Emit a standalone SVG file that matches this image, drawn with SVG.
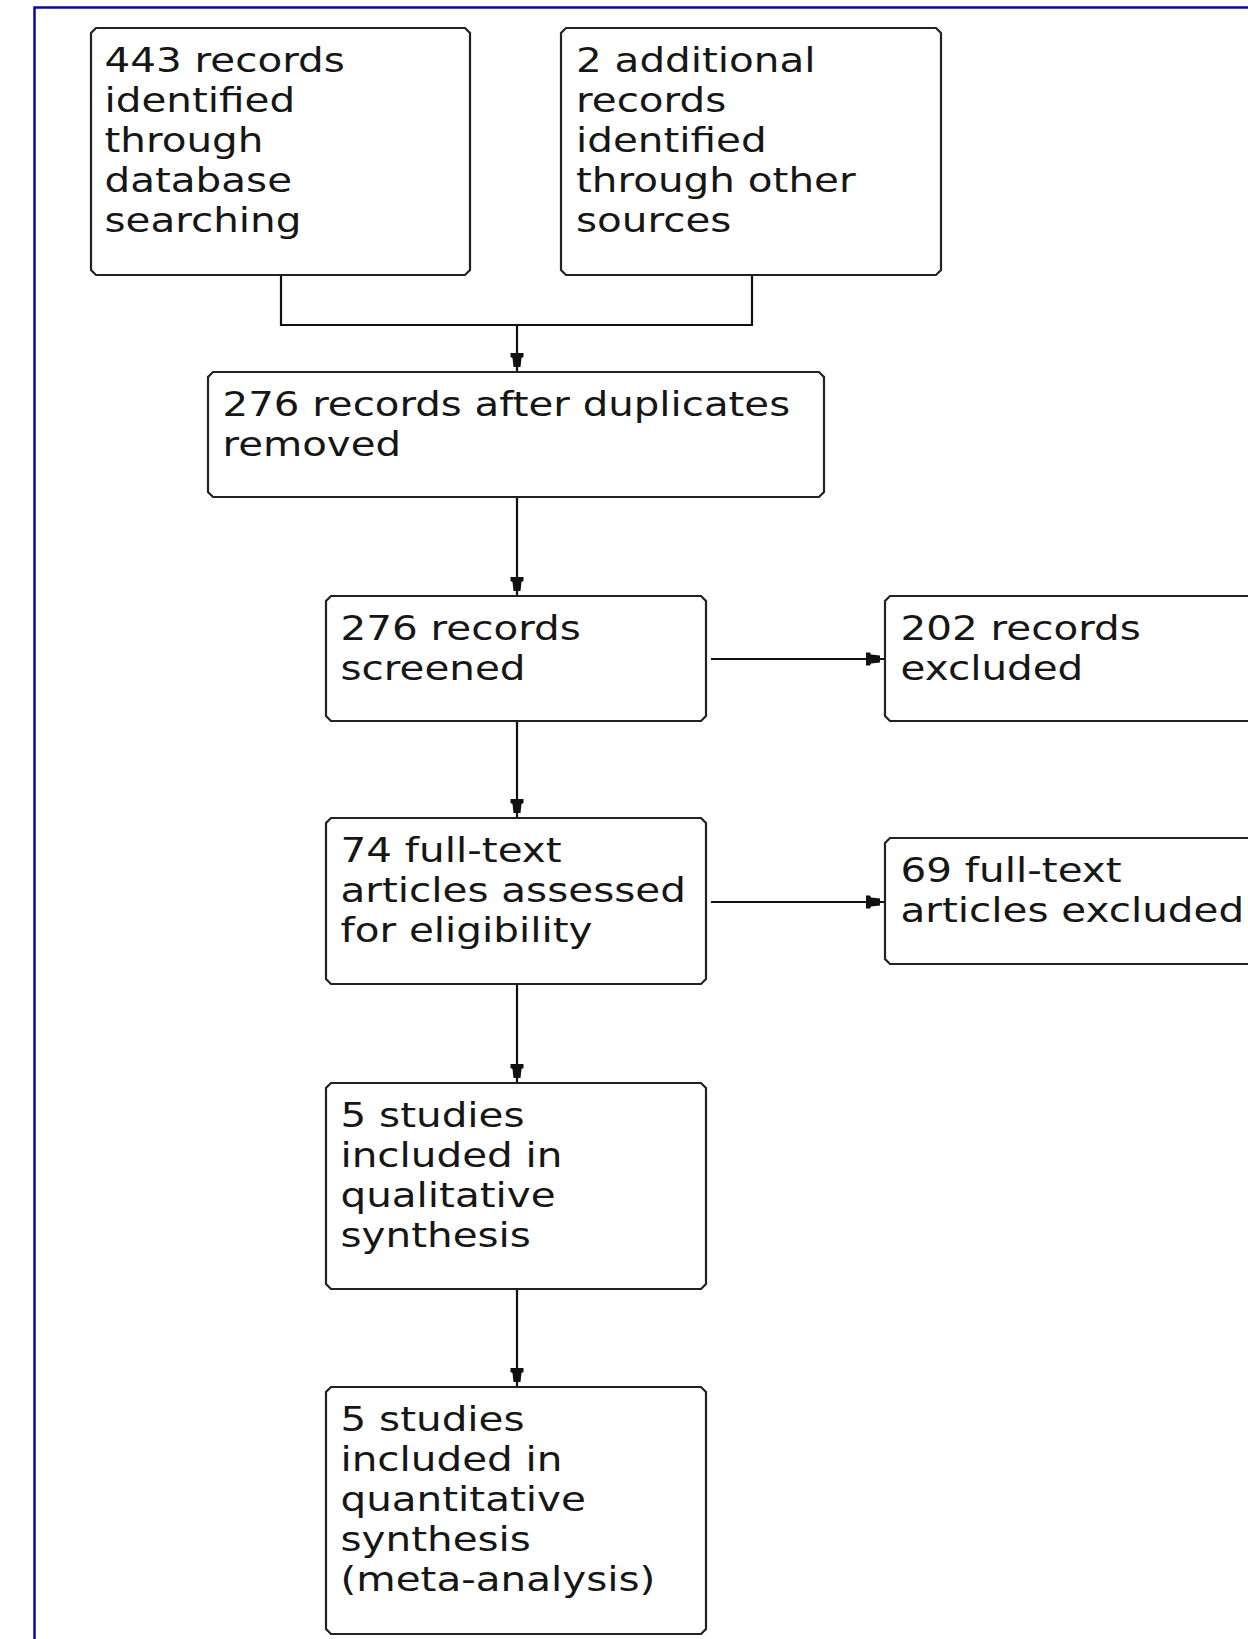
<svg xmlns="http://www.w3.org/2000/svg" width="1248" height="1639" viewBox="0 0 1248 1639">
<style>
.box{fill:#fff;stroke:#222;stroke-width:2.2}
.t{font-family:"DejaVu Sans","Liberation Sans",sans-serif;font-size:34px;fill:#161616}
.c{fill:none;stroke:#111;stroke-width:2.2}
</style>
<defs>
<marker id="ah" markerWidth="22" markerHeight="16" refX="19" refY="8" orient="auto" markerUnits="userSpaceOnUse">
<path d="M0,1.5 L4,1.5 L5,3.5 L14,4.5 L14,11.5 L5,12.5 L4,14.5 L0,14.5 Z" fill="#111"/>
</marker>
</defs>
<rect x="0" y="0" width="1248" height="1639" fill="#fff"/>
<rect x="34.5" y="7.5" width="1300" height="1700" fill="none" stroke="#0a0a9a" stroke-width="2.5"/>
<g id="connectors">
<path class="c" d="M281,275 V325 H752 V275"/>
<path class="c" d="M517,325 V372" marker-end="url(#ah)"/>
<path class="c" d="M517,497 V596" marker-end="url(#ah)"/>
<path class="c" d="M711,659 H885" marker-end="url(#ah)"/>
<path class="c" d="M517,721 V818" marker-end="url(#ah)"/>
<path class="c" d="M711,902 H885" marker-end="url(#ah)"/>
<path class="c" d="M517,984 V1083" marker-end="url(#ah)"/>
<path class="c" d="M517,1289 V1387" marker-end="url(#ah)"/>
</g>
<g id="n1">
<path class="box" d="M96,28 H465 L470,33 V270 L465,275 H96 L91,270 V33 Z"/>
<text class="t" transform="translate(104.5 72) scale(1.19 1)"><tspan x="0" dy="0">443 records</tspan><tspan x="0" dy="40">identified</tspan><tspan x="0" dy="40">through</tspan><tspan x="0" dy="40">database</tspan><tspan x="0" dy="40">searching</tspan></text>
</g>
<g id="n2">
<path class="box" d="M566,28 H936 L941,33 V270 L936,275 H566 L561,270 V33 Z"/>
<text class="t" transform="translate(576 72) scale(1.19 1)"><tspan x="0" dy="0">2 additional</tspan><tspan x="0" dy="40">records</tspan><tspan x="0" dy="40">identified</tspan><tspan x="0" dy="40">through other</tspan><tspan x="0" dy="40">sources</tspan></text>
</g>
<g id="n3">
<path class="box" d="M213,372 H819 L824,377 V492 L819,497 H213 L208,492 V377 Z"/>
<text class="t" transform="translate(222.5 416) scale(1.185 1)"><tspan x="0" dy="0">276 records after duplicates</tspan><tspan x="0" dy="40">removed</tspan></text>
</g>
<g id="n4">
<path class="box" d="M331,596 H701 L706,601 V716 L701,721 H331 L326,716 V601 Z"/>
<text class="t" transform="translate(340.5 640) scale(1.19 1)"><tspan x="0" dy="0">276 records</tspan><tspan x="0" dy="40">screened</tspan></text>
</g>
<g id="n5">
<path class="box" d="M890,596 H1285 L1290,601 V716 L1285,721 H890 L885,716 V601 Z"/>
<text class="t" transform="translate(900.5 640) scale(1.19 1)"><tspan x="0" dy="0">202 records</tspan><tspan x="0" dy="40">excluded</tspan></text>
</g>
<g id="n6">
<path class="box" d="M331,818 H701 L706,823 V979 L701,984 H331 L326,979 V823 Z"/>
<text class="t" transform="translate(340.5 862) scale(1.19 1)"><tspan x="0" dy="0">74 full-text</tspan><tspan x="0" dy="40">articles assessed</tspan><tspan x="0" dy="40">for eligibility</tspan></text>
</g>
<g id="n7">
<path class="box" d="M890,838 H1285 L1290,843 V959 L1285,964 H890 L885,959 V843 Z"/>
<text class="t" transform="translate(900.5 882) scale(1.19 1)"><tspan x="0" dy="0">69 full-text</tspan><tspan x="0" dy="40">articles excluded</tspan></text>
</g>
<g id="n8">
<path class="box" d="M331,1083 H701 L706,1088 V1284 L701,1289 H331 L326,1284 V1088 Z"/>
<text class="t" transform="translate(340.5 1127) scale(1.19 1)"><tspan x="0" dy="0">5 studies</tspan><tspan x="0" dy="40">included in</tspan><tspan x="0" dy="40">qualitative</tspan><tspan x="0" dy="40">synthesis</tspan></text>
</g>
<g id="n9">
<path class="box" d="M331,1387 H701 L706,1392 V1629 L701,1634 H331 L326,1629 V1392 Z"/>
<text class="t" transform="translate(340.5 1431) scale(1.19 1)"><tspan x="0" dy="0">5 studies</tspan><tspan x="0" dy="40">included in</tspan><tspan x="0" dy="40">quantitative</tspan><tspan x="0" dy="40">synthesis</tspan><tspan x="0" dy="40">(meta-analysis)</tspan></text>
</g>
</svg>
